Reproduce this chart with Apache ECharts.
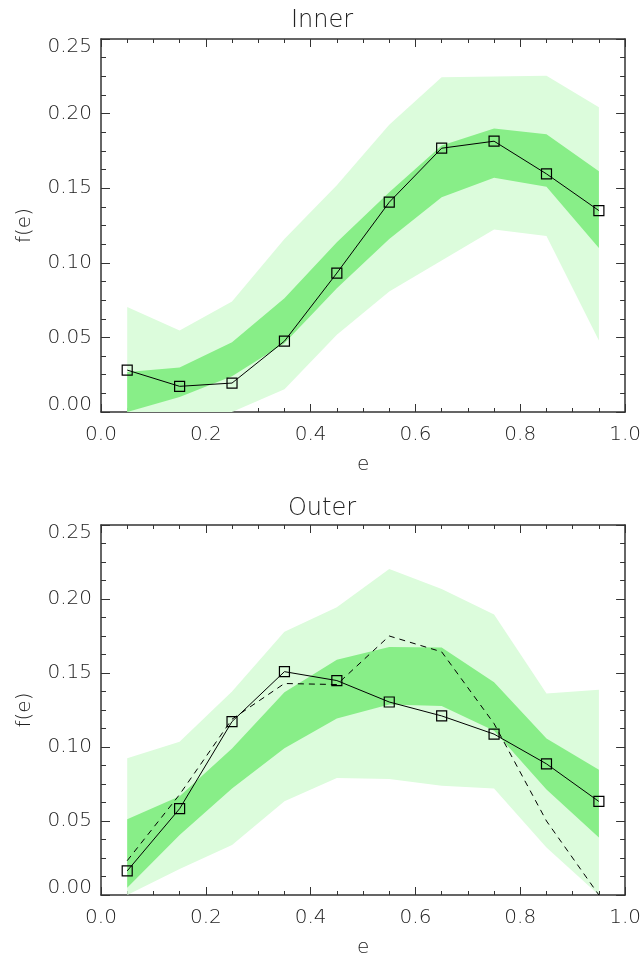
<!DOCTYPE html>
<html>
<head>
<meta charset="utf-8">
<script src="https://cdn.jsdelivr.net/npm/echarts@6/dist/echarts.min.js"></script>
<style>
  html, body { margin: 0; padding: 0; background: #fff; }
  #chart { width: 644px; height: 959px; }
</style>
</head>
<body>
<div id="chart"></div>
<script>
// ---- Data ----
const eBins = [0.05, 0.15, 0.25, 0.35, 0.45, 0.55, 0.65, 0.75, 0.85, 0.95];

// Inner panel
const innerValues    = [0.0281, 0.0172, 0.0194, 0.0475, 0.0931, 0.1406, 0.1768, 0.1815, 0.1596, 0.1350];
const innerDarkLow   = [0.0000, 0.0100, 0.0239, 0.0460, 0.0830, 0.1160, 0.1440, 0.1570, 0.1510, 0.1100];
const innerDarkHigh  = [0.0268, 0.0299, 0.0467, 0.0763, 0.1138, 0.1473, 0.1786, 0.1900, 0.1862, 0.1614];
const innerLightLow  = [0.0000, 0.0000, 0.0000, 0.0152, 0.0518, 0.0808, 0.1016, 0.1223, 0.1179, 0.0480];
const innerLightHigh = [0.0703, 0.0547, 0.0741, 0.1160, 0.1520, 0.1926, 0.2243, 0.2248, 0.2254, 0.2042];

// Outer panel
const outerValues    = [0.0163, 0.0583, 0.1172, 0.1509, 0.1449, 0.1304, 0.1210, 0.1087, 0.0886, 0.0632];
const outerDashed    = [0.0232, 0.0679, 0.1188, 0.1429, 0.1422, 0.1750, 0.1643, 0.1158, 0.0500, 0.0000];
const outerDarkLow   = [0.0049, 0.0406, 0.0719, 0.0991, 0.1192, 0.1288, 0.1277, 0.1110, 0.0712, 0.0388];
const outerDarkHigh  = [0.0511, 0.0667, 0.0990, 0.1370, 0.1590, 0.1676, 0.1672, 0.1438, 0.1058, 0.0846];
const outerLightLow  = [0.0000, 0.0176, 0.0337, 0.0634, 0.0790, 0.0783, 0.0739, 0.0719, 0.0321, 0.0000];
const outerLightHigh = [0.0924, 0.1036, 0.1375, 0.1779, 0.1944, 0.2203, 0.2067, 0.1895, 0.1362, 0.1386];

const panelTitles = ['Inner', 'Outer'];
const xName = 'e';
const yName = 'f(e)';

// ---- Styling ----
const FONT = 'DejaVu Sans';
const TXT = '#222';
const AXC = '#333';
const LIGHT = '#dcfcdc';
const DARK = '#88ee88';

const pairs = (ys) => eBins.map((x, i) => [x, ys[i]]);

const grids = [
  { left: 101, right: 17, top: 39, height: 373 },
  { left: 101, right: 17, top: 525, height: 373 }
];

const xAxes = [], yAxes = [];
grids.forEach((g, gi) => {
  const common = {
    gridIndex: gi, type: 'value', min: 0, max: 1.0, interval: 0.2,
    axisLine: { show: true, onZero: false, lineStyle: { color: AXC, width: 1.5 } },
    axisTick: { show: true, inside: true, length: 8, lineStyle: { color: AXC, width: 1 } },
    minorTick: { show: true, splitNumber: 4, length: 4, lineStyle: { color: AXC, width: 1 } },
    splitLine: { show: false }
  };
  xAxes.push(Object.assign({}, common, {
    position: 'bottom',
    name: xName, nameLocation: 'middle', nameGap: 43,
    nameTextStyle: { fontFamily: FONT, fontSize: 20, color: TXT, fontWeight: 200 },
    axisLabel: { show: true, margin: 13, fontFamily: FONT, fontSize: 20, color: TXT, fontWeight: 200,
      formatter: v => v.toFixed(1) }
  }));
  xAxes.push(Object.assign({}, common, { position: 'top', axisLabel: { show: false } }));

  const ycommon = {
    gridIndex: gi, type: 'value', min: 0, max: 0.25, interval: 0.05,
    axisLine: { show: true, onZero: false, lineStyle: { color: AXC, width: 1.5 } },
    axisTick: { show: true, inside: true, length: 9, lineStyle: { color: AXC, width: 1 } },
    minorTick: { show: true, splitNumber: 4, length: 5, lineStyle: { color: AXC, width: 1 } },
    splitLine: { show: false }
  };
  const lab = { fontFamily: FONT, fontSize: 20, color: TXT, fontWeight: 200 };
  yAxes.push(Object.assign({}, ycommon, {
    position: 'left',
    name: yName, nameLocation: 'middle', nameGap: 66,
    nameTextStyle: { fontFamily: FONT, fontSize: 20, color: TXT, fontWeight: 200 },
    axisLabel: Object.assign({ show: true, margin: 9,
      formatter: v => {
        const s = v.toFixed(2);
        if (Math.abs(v - 0.25) < 1e-9) return '{top|' + s + '}';
        if (Math.abs(v) < 1e-9) return '{bot|' + s + '}';
        return s;
      },
      rich: {
        top: Object.assign({ padding: [16, 0, 0, 0] }, lab),
        bot: Object.assign({ padding: [0, 0, 14, 0] }, lab)
      }
    }, lab)
  }));
  yAxes.push(Object.assign({}, ycommon, { position: 'right', axisLabel: { show: false } }));
});

// Band drawn as one polygon through the axes' own coordinate mapping
function bandSeries(gi, lo, hi, color) {
  return {
    type: 'custom', xAxisIndex: gi * 2, yAxisIndex: gi * 2, silent: true, z: 1,
    data: [[eBins[0], hi[0]]],
    renderItem: (params, api) => {
      const top = eBins.map((x, i) => api.coord([x, hi[i]]));
      const bot = eBins.map((x, i) => api.coord([x, lo[i]])).reverse();
      return { type: 'polygon', shape: { points: top.concat(bot) }, style: { fill: color, stroke: null } };
    }
  };
}

function markerLine(gi, ys) {
  return { type: 'line', xAxisIndex: gi * 2, yAxisIndex: gi * 2, data: pairs(ys),
    symbol: 'rect', symbolSize: 10, showAllSymbol: true,
    lineStyle: { color: '#000', width: 1 },
    itemStyle: { color: 'rgba(0,0,0,0)', borderColor: '#000', borderWidth: 1.2 }, z: 5 };
}

const series = [
  bandSeries(0, innerLightLow, innerLightHigh, LIGHT),
  bandSeries(0, innerDarkLow, innerDarkHigh, DARK),
  markerLine(0, innerValues),
  bandSeries(1, outerLightLow, outerLightHigh, LIGHT),
  bandSeries(1, outerDarkLow, outerDarkHigh, DARK),
  { type: 'line', xAxisIndex: 2, yAxisIndex: 2, data: pairs(outerDashed), symbol: 'none',
    lineStyle: { color: '#000', width: 1, type: [6, 5] }, z: 4 },
  markerLine(1, outerValues)
];

const chart = echarts.init(document.getElementById('chart'), null, { renderer: 'canvas' });
chart.setOption({
  animation: false,
  backgroundColor: '#fff',
  title: [
    { text: panelTitles[0], left: 'center', top: 4, textStyle: { fontFamily: FONT, fontSize: 24, fontWeight: 200, color: TXT } },
    { text: panelTitles[1], left: 'center', top: 492, textStyle: { fontFamily: FONT, fontSize: 24, fontWeight: 200, color: TXT } }
  ],
  grid: grids,
  xAxis: xAxes,
  yAxis: yAxes,
  series: series
});
</script>
</body>
</html>
